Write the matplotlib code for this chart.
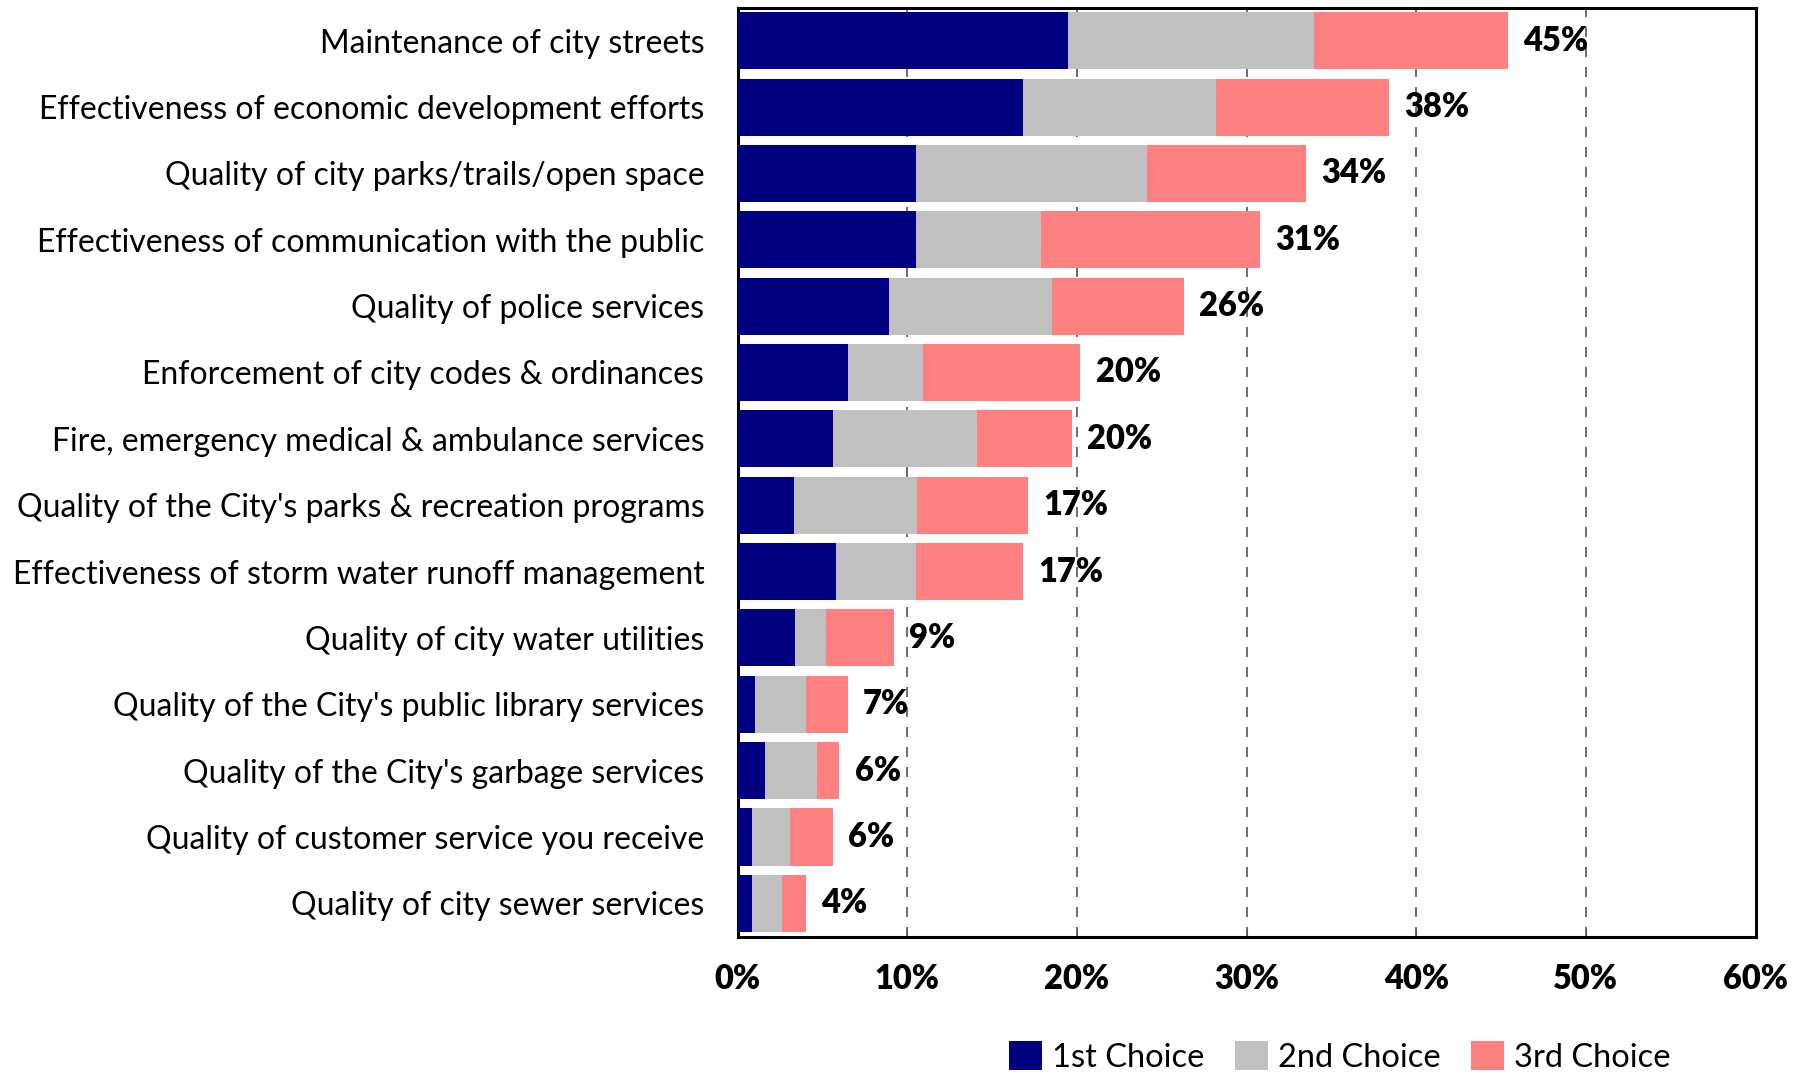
import matplotlib
matplotlib.use("Agg")
import matplotlib.pyplot as plt
import numpy as np
from matplotlib.ticker import FuncFormatter, MultipleLocator

plt.rcParams['font.family'] = ['Lato', 'DejaVu Sans']

# data, top to bottom
categories = [
    "Maintenance of city streets",
    "Effectiveness of economic development efforts",
    "Quality of city parks/trails/open space",
    "Effectiveness of communication with the public",
    "Quality of police services",
    "Enforcement of city codes & ordinances",
    "Fire, emergency medical & ambulance services",
    "Quality of the City's parks & recreation programs",
    "Effectiveness of storm water runoff management",
    "Quality of city water utilities",
    "Quality of the City's public library services",
    "Quality of the City's garbage services",
    "Quality of customer service you receive",
    "Quality of city sewer services",
]
first = [19.5, 16.8, 10.5, 10.5, 8.9, 6.5, 5.6, 3.3, 5.8, 3.4, 1.05, 1.6, 0.86, 0.86]
second = [14.5, 11.4, 13.6, 7.4, 9.6, 4.4, 8.5, 7.3, 4.7, 1.8, 2.95, 3.05, 2.2, 1.75]
third = [11.4, 10.2, 9.4, 12.9, 7.8, 9.3, 5.6, 6.5, 6.3, 4.0, 2.5, 1.35, 2.55, 1.4]
total_labels = ["45%", "38%", "34%", "31%", "26%", "20%", "20%", "17%", "17%",
                "9%", "7%", "6%", "6%", "4%"]
series_names = ["1st Choice", "2nd Choice", "3rd Choice"]
colors = ["#000080", "#C0C0C0", "#FF8080"]

fig = plt.figure(figsize=(18.08, 10.74), dpi=100)
ax = fig.add_axes([0.408, 0.128, 0.563, 0.865])

y = np.arange(len(categories))
left = np.zeros(len(categories))
for vals, name, col in zip([first, second, third], series_names, colors):
    ax.barh(y, vals, left=left, height=0.86, color=col, label=name, zorder=3)
    left = left + np.array(vals)

for yi, tot, lab in zip(y, left, total_labels):
    ax.annotate(lab, (tot, yi), xytext=(11, 0), textcoords="offset points",
                va="center", ha="left", fontsize=23.5, fontweight="heavy", zorder=4)

ax.set_xlim(0, 60)
ax.set_ylim(len(categories) - 0.5, -0.5)
ax.set_yticks(y)
ax.set_yticklabels(categories, fontsize=23)
ax.xaxis.set_major_locator(MultipleLocator(10))
ax.xaxis.set_major_formatter(FuncFormatter(lambda v, p: f"{v:.0f}%"))
for t in ax.get_xticklabels():
    t.set_fontweight("heavy")
    t.set_fontsize(23.5)

ax.tick_params(axis="y", length=0, pad=24)
ax.tick_params(axis="x", direction="in", length=6, color="#555555", pad=19)
ax.grid(axis="x", linestyle=(0, (6, 6)), color="#555555", linewidth=1.2, zorder=1)

for sp in ax.spines.values():
    sp.set_linewidth(2.2)
    sp.set_color("black")

fig.legend(loc="center", bbox_to_anchor=(0.741, 0.016), ncol=3, frameon=False,
           fontsize=23.5, handlelength=1.0, handleheight=1.0, handletextpad=0.3,
           columnspacing=0.95)

fig.savefig("out.png", dpi=100)
